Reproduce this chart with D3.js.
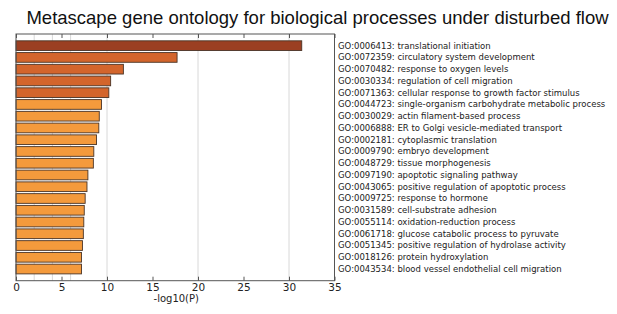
<!DOCTYPE html>
<html>
<head>
<meta charset="utf-8">
<style>
  body { margin: 0; background: #fff; }
  svg text { font-family: "DejaVu Sans", sans-serif; }
  .title { font-family: "Liberation Sans", Arial, sans-serif; }
</style>
<script src="https://d3js.org/d3.v7.min.js"></script>
</head>
<body>
<svg width="617" height="314"></svg>
<script>
// GO terms, top to bottom
var terms = [
  "GO:0006413: translational initiation",
  "GO:0072359: circulatory system development",
  "GO:0070482: response to oxygen levels",
  "GO:0030334: regulation of cell migration",
  "GO:0071363: cellular response to growth factor stimulus",
  "GO:0044723: single-organism carbohydrate metabolic process",
  "GO:0030029: actin filament-based process",
  "GO:0006888: ER to Golgi vesicle-mediated transport",
  "GO:0002181: cytoplasmic translation",
  "GO:0009790: embryo development",
  "GO:0048729: tissue morphogenesis",
  "GO:0097190: apoptotic signaling pathway",
  "GO:0043065: positive regulation of apoptotic process",
  "GO:0009725: response to hormone",
  "GO:0031589: cell-substrate adhesion",
  "GO:0055114: oxidation-reduction process",
  "GO:0061718: glucose catabolic process to pyruvate",
  "GO:0051345: positive regulation of hydrolase activity",
  "GO:0018126: protein hydroxylation",
  "GO:0043534: blood vessel endothelial cell migration"
];
// -log10(P)
var logp = [31.4, 17.7, 11.8, 10.4, 10.2, 9.4, 9.15, 9.1, 8.85, 8.55,
            8.5, 7.9, 7.8, 7.6, 7.5, 7.45, 7.4, 7.3, 7.2, 7.2];
// colour group per bar (0 darkest)
var group = [0, 1, 1, 1, 1, 2, 2, 2, 2, 2, 2, 2, 2, 2, 2, 2, 2, 2, 2, 2];
var xTicks = [0, 5, 10, 15, 20, 25, 30, 35];
var gridVals = [2, 4, 6, 10, 20, 30];

function draw() {
  var svg = d3.select("svg"),
      margin = {top: 34, right: 282.5, bottom: 33.3, left: 16},
      width = +svg.attr("width") - margin.left - margin.right,
      height = +svg.attr("height") - margin.top - margin.bottom,
      g = svg.append("g").attr("transform", "translate(" + margin.left + "," + margin.top + ")");

  var x = d3.scaleLinear().domain([0, 35]).range([0, width]);
  var y = d3.scaleBand().domain(terms).range([0, height]).paddingInner(0.175).paddingOuter(0.58);
  var color = d3.scaleOrdinal().domain([0, 1, 2]).range(["#9b3f22", "#d3652c", "#f49a3c"]);

  svg.append("text")
      .attr("class", "title")
      .attr("x", 317.5)
      .attr("y", 24)
      .attr("text-anchor", "middle")
      .attr("font-size", 18.5)
      .attr("fill", "#111")
      .text("Metascape gene ontology for biological processes under disturbed flow");

  g.selectAll(".grid")
    .data(gridVals)
    .enter().append("line")
      .attr("x1", function(d) { return x(d); })
      .attr("x2", function(d) { return x(d); })
      .attr("y1", 0)
      .attr("y2", height)
      .attr("stroke", "#d8d8d8")
      .attr("stroke-width", 1);

  g.selectAll(".bar")
    .data(logp)
    .enter().append("rect")
      .attr("x", x(0))
      .attr("y", function(d, i) { return y(terms[i]); })
      .attr("width", function(d) { return x(d) - x(0); })
      .attr("height", y.bandwidth())
      .attr("fill", function(d, i) { return color(group[i]); })
      .attr("stroke", "#4a3426")
      .attr("stroke-width", 0.9);

  // frame
  g.append("rect")
      .attr("width", width)
      .attr("height", height)
      .attr("fill", "none")
      .attr("stroke", "#555")
      .attr("stroke-width", 1);

  var bottom = g.append("g")
      .attr("transform", "translate(0," + height + ")")
      .call(d3.axisBottom(x).tickValues(xTicks).tickSize(-4).tickPadding(3));
  bottom.select(".domain").remove();
  bottom.selectAll("line").attr("stroke", "#555");
  bottom.selectAll("text").attr("font-size", 10.5).attr("fill", "#222")
      .style("font-family", "DejaVu Sans");

  var top = g.append("g")
      .call(d3.axisTop(x).tickValues(xTicks).tickSize(-4).tickFormat(""));
  top.select(".domain").remove();
  top.selectAll("line").attr("stroke", "#555");

  g.append("text")
      .attr("x", x(17.5) + 1)
      .attr("y", height + 21)
      .attr("text-anchor", "middle")
      .attr("font-size", 10)
      .attr("fill", "#222")
      .text("-log10(P)");

  g.selectAll(".label")
    .data(terms)
    .enter().append("text")
      .attr("x", width + 3.5)
      .attr("y", function(d) { return y(d) + y.bandwidth() / 2; })
      .attr("dy", "0.35em")
      .attr("font-size", 8.5)
      .attr("fill", "#222")
      .text(function(d) { return d; });
}

draw();
</script>
</body>
</html>
